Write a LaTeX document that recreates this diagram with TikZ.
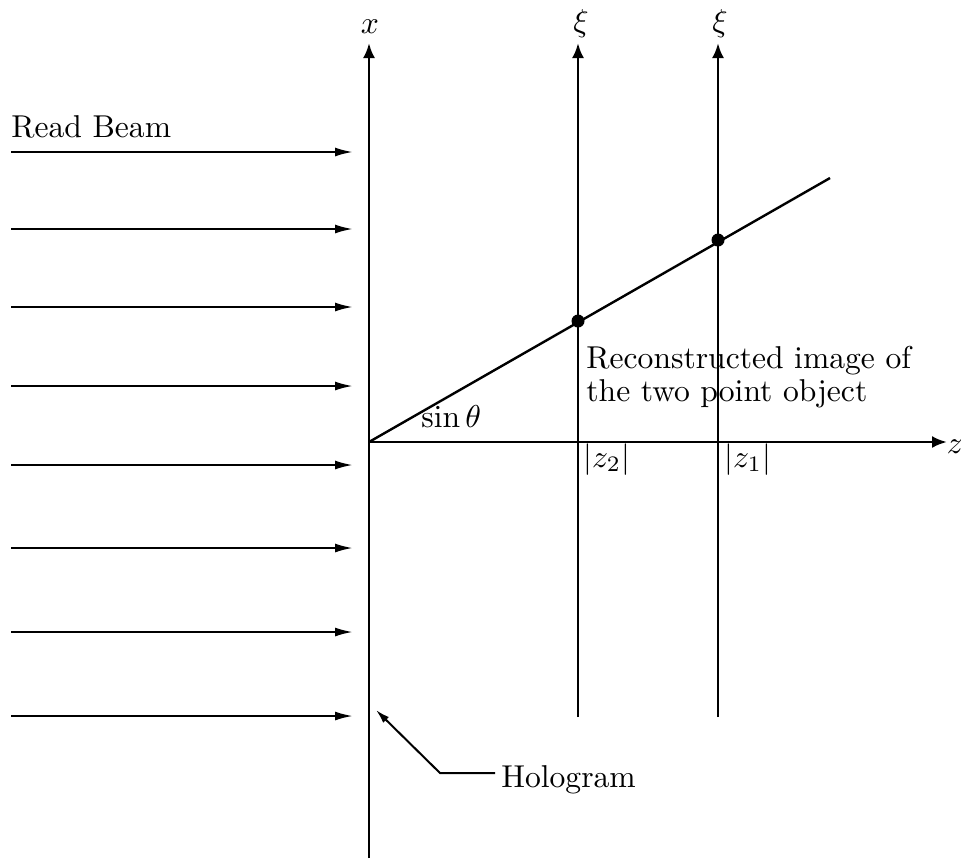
\documentclass[tikz,border=0pt]{standalone}
\usetikzlibrary{arrows.meta}
\newcommand\mytx[1]{\scalebox{1.58}{#1}}
\begin{document}
\begin{tikzpicture}[x=0.5pt,y=-0.5pt,
  axis/.style={line width=1.4pt,-{Latex[length=7.5pt,width=6pt]}},
  beam/.style={line width=1.1pt,-{Latex[length=9pt,width=4.5pt]}},
  guide/.style={line width=1pt},
  lbl/.style={inner sep=0pt,font=\fontsize{10}{12}\selectfont},
  dot/.style={circle,fill=black,inner sep=0pt,minimum size=6.5pt}]
\useasboundingbox (0,0) rectangle (961,858);
% coordinates
\coordinate (O) at (369,442);
\coordinate (xb) at (369,858);
\coordinate (xt) at (369,43);
\coordinate (a2b) at (578,717);
\coordinate (a2t) at (578,43);
\coordinate (a1b) at (718,717);
\coordinate (a1t) at (718,43);
\coordinate (zt) at (947,442);
\coordinate (Lend) at (830,178);
% axes
\draw[axis] (xb) -- (xt);
\draw[axis] (a2b) -- (a2t);
\draw[axis] (a1b) -- (a1t);
\draw[axis] (O) -- (zt);
\draw[line width=1.2pt] (O) -- (Lend);
\node[dot] (d2) at (578,321) {};
\node[dot] (d1) at (718,240) {};
% axis labels
\node[lbl,anchor=base] (lx) at (370,33) {\mytx{$x$}};
\node[lbl,anchor=base] (lxi2) at (581,31) {\mytx{$\xi$}};
\node[lbl,anchor=base] (lxi1) at (720,31) {\mytx{$\xi$}};
\node[lbl,anchor=base] (lz) at (955,453) {\mytx{$z$}};
\node[lbl,anchor=base west] (lsin) at (421,427) {\mytx{$\sin\theta$}};
\node[lbl,anchor=base west] (lz2) at (583,467) {\mytx{$|z_2|$}};
\node[lbl,anchor=base west] (lz1) at (724,467) {\mytx{$|z_1|$}};
\node[lbl,anchor=north west] (rec) at (586,346)
  {\mytx{\vbox{\baselineskip=10.5pt\hbox{Reconstructed image of}\hbox{the two point object}}}};
% read beam
\node[lbl,anchor=base west] (rb) at (11,137) {\mytx{Read Beam}};
\foreach \i/\y in {1/152,2/229,3/307,4/386,5/465,6/548,7/632,8/716}{
  \coordinate (bs\i) at (11,\y);
  \coordinate (be\i) at (353,\y);
  \draw[beam] (bs\i) -- (be\i);
}
% hologram label
\node[lbl,anchor=base west] (holo) at (501,787) {\mytx{Hologram}};
\coordinate (hs) at (495,773);
\coordinate (hk) at (440,773);
\coordinate (ht) at (376,710);
\draw[guide,-{Latex[length=7pt,width=4pt]}] (hs) -- (hk) -- (ht);
\end{tikzpicture}
\end{document}
